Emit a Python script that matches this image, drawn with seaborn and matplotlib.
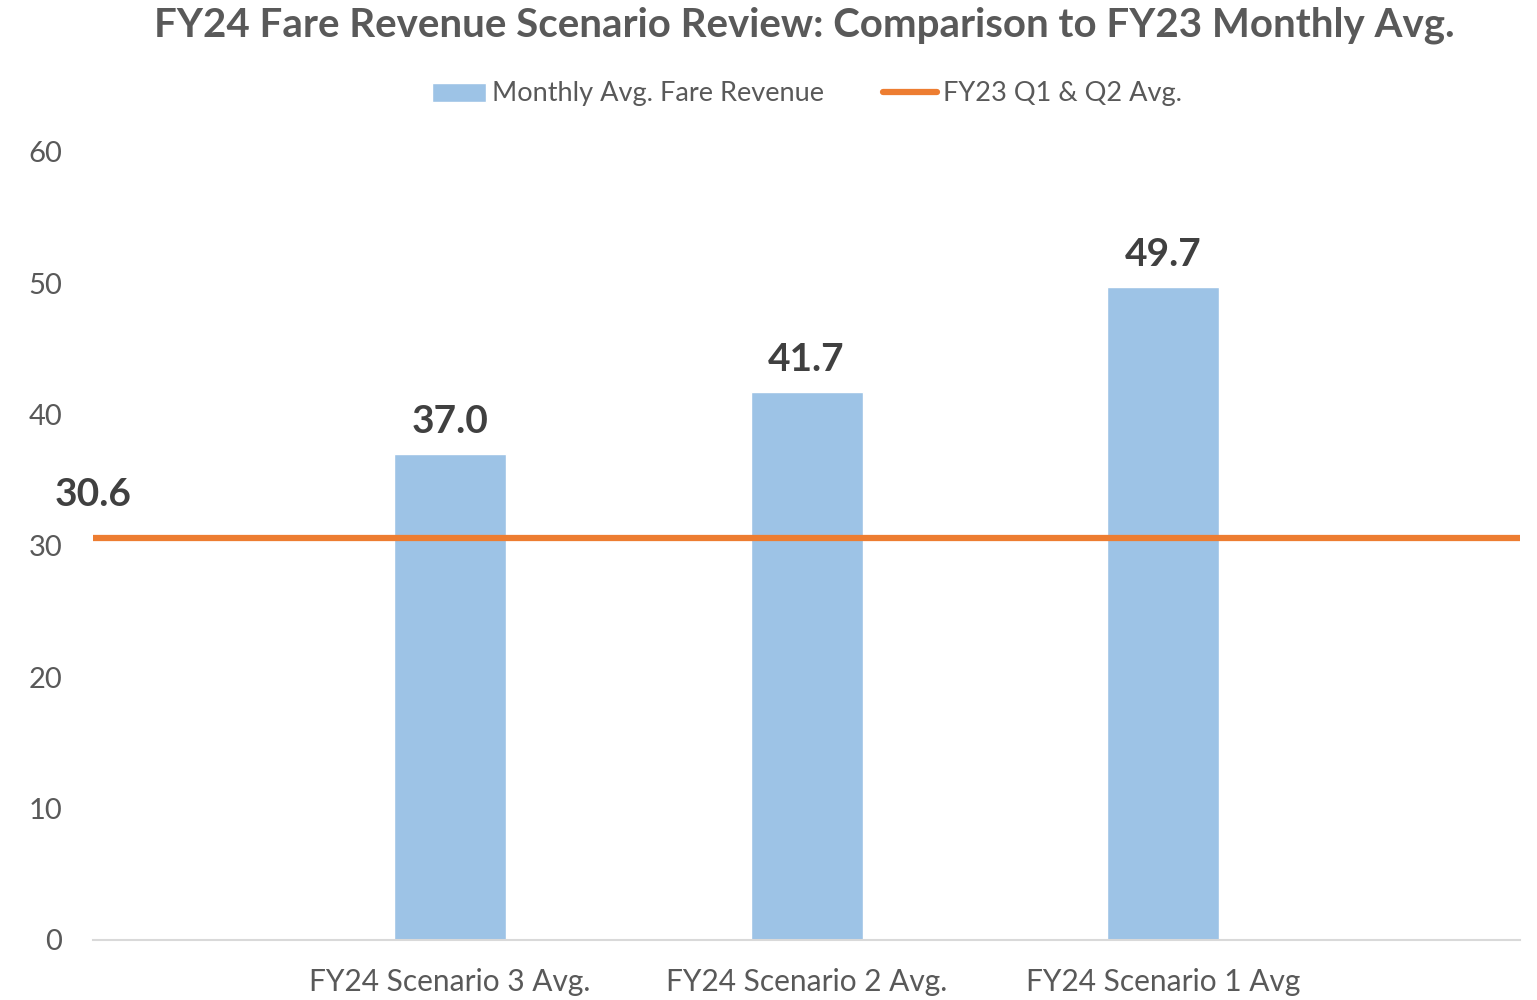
import matplotlib.pyplot as plt
import pandas as pd
import seaborn as sns
from matplotlib.patches import Patch
from matplotlib.lines import Line2D

# Data
scenarios = ['FY24 Scenario 3 Avg.', 'FY24 Scenario 2 Avg.', 'FY24 Scenario 1 Avg']
revenue = [37.0, 41.7, 49.7]
fy23_avg = 30.6
y_ticks = [0, 10, 20, 30, 40, 50, 60]

bar_color = '#9DC3E6'
line_color = '#ED7D31'
text_color = '#595959'
dark_text = '#404040'

sns.set_theme(style='white')
plt.rcParams['font.family'] = ['Lato', 'DejaVu Sans']

df = pd.DataFrame({'scenario': scenarios, 'revenue': revenue})

fig = plt.figure(figsize=(15.37, 10), dpi=100)
ax = fig.add_axes([0.0605, 0.06, 0.9285, 0.788])

sns.barplot(data=df, x='scenario', y='revenue', order=scenarios,
            color=bar_color, saturation=1, width=0.314, ax=ax)
ax.axhline(fy23_avg, color=line_color, linewidth=4.5, zorder=3)

ax.set_xlim(-1, 3)
ax.set_ylim(0, 60)
ax.set_yticks(y_ticks)
ax.set_xlabel('')
ax.set_ylabel('')

# Data labels
for i, v in enumerate(revenue):
    ax.annotate(f'{v:.1f}', (i, v), xytext=(0, 11), textcoords='offset points',
                ha='center', va='bottom', fontsize=28, fontweight='bold', color=dark_text)
ax.annotate(f'{fy23_avg:.1f}', (-1, fy23_avg), xytext=(0, 19), textcoords='offset points',
            ha='center', va='bottom', fontsize=28, fontweight='bold', color=dark_text)

# Styling
for s in ['top', 'right', 'left']:
    ax.spines[s].set_visible(False)
ax.spines['bottom'].set_color('#D9D9D9')
ax.spines['bottom'].set_linewidth(1.5)
ax.tick_params(axis='y', labelsize=21, labelcolor=text_color, length=0, pad=22)
ax.tick_params(axis='x', labelsize=21.5, labelcolor=text_color, length=0, pad=20)
for lbl in ax.get_yticklabels():
    lbl.set_horizontalalignment('right')

fig.suptitle('FY24 Fare Revenue Scenario Review: Comparison to FY23 Monthly Avg.',
             x=0.523, y=0.994, fontsize=29, fontweight='bold', color=text_color)

handles = [Patch(facecolor=bar_color, label='Monthly Avg. Fare Revenue'),
           Line2D([0], [0], color=line_color, linewidth=4.5, label='FY23 Q1 & Q2 Avg.')]
fig.legend(handles=handles, loc='center', bbox_to_anchor=(0.525, 0.906), ncol=2,
           frameon=False, fontsize=19.5, labelcolor=text_color, handlelength=2.0,
           handletextpad=0.2, columnspacing=2.2)

fig.savefig('out.png', dpi=100)
